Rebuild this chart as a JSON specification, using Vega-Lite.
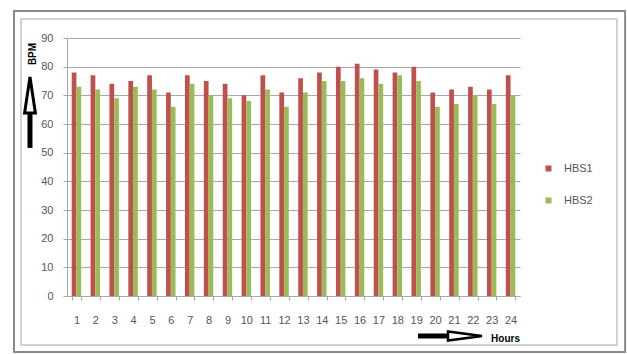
{
  "$schema": "https://vega.github.io/schema/vega-lite/v6.json",
  "width": 453,
  "height": 258,
  "autosize": {"type": "none"},
  "padding": {"left": 67, "top": 38, "right": 107, "bottom": 58},
  "background": "white",
  "config": {
    "font": "Liberation Sans",
    "view": {"stroke": null},
    "axis": {
      "labelFont": "Liberation Sans",
      "labelFontSize": 11,
      "labelColor": "#555555",
      "gridColor": "#a8a8a8",
      "domainColor": "#a8a8a8",
      "tickColor": "#a8a8a8",
      "tickSize": 4,
      "title": null
    }
  },
  "datasets": {
    "bpm": [
      {"hour": 1, "series": "HBS1", "bpm": 78}, {"hour": 1, "series": "HBS2", "bpm": 73},
      {"hour": 2, "series": "HBS1", "bpm": 77}, {"hour": 2, "series": "HBS2", "bpm": 72},
      {"hour": 3, "series": "HBS1", "bpm": 74}, {"hour": 3, "series": "HBS2", "bpm": 69},
      {"hour": 4, "series": "HBS1", "bpm": 75}, {"hour": 4, "series": "HBS2", "bpm": 73},
      {"hour": 5, "series": "HBS1", "bpm": 77}, {"hour": 5, "series": "HBS2", "bpm": 72},
      {"hour": 6, "series": "HBS1", "bpm": 71}, {"hour": 6, "series": "HBS2", "bpm": 66},
      {"hour": 7, "series": "HBS1", "bpm": 77}, {"hour": 7, "series": "HBS2", "bpm": 74},
      {"hour": 8, "series": "HBS1", "bpm": 75}, {"hour": 8, "series": "HBS2", "bpm": 70},
      {"hour": 9, "series": "HBS1", "bpm": 74}, {"hour": 9, "series": "HBS2", "bpm": 69},
      {"hour": 10, "series": "HBS1", "bpm": 70}, {"hour": 10, "series": "HBS2", "bpm": 68},
      {"hour": 11, "series": "HBS1", "bpm": 77}, {"hour": 11, "series": "HBS2", "bpm": 72},
      {"hour": 12, "series": "HBS1", "bpm": 71}, {"hour": 12, "series": "HBS2", "bpm": 66},
      {"hour": 13, "series": "HBS1", "bpm": 76}, {"hour": 13, "series": "HBS2", "bpm": 71},
      {"hour": 14, "series": "HBS1", "bpm": 78}, {"hour": 14, "series": "HBS2", "bpm": 75},
      {"hour": 15, "series": "HBS1", "bpm": 80}, {"hour": 15, "series": "HBS2", "bpm": 75},
      {"hour": 16, "series": "HBS1", "bpm": 81}, {"hour": 16, "series": "HBS2", "bpm": 76},
      {"hour": 17, "series": "HBS1", "bpm": 79}, {"hour": 17, "series": "HBS2", "bpm": 74},
      {"hour": 18, "series": "HBS1", "bpm": 78}, {"hour": 18, "series": "HBS2", "bpm": 77},
      {"hour": 19, "series": "HBS1", "bpm": 80}, {"hour": 19, "series": "HBS2", "bpm": 75},
      {"hour": 20, "series": "HBS1", "bpm": 71}, {"hour": 20, "series": "HBS2", "bpm": 66},
      {"hour": 21, "series": "HBS1", "bpm": 72}, {"hour": 21, "series": "HBS2", "bpm": 67},
      {"hour": 22, "series": "HBS1", "bpm": 73}, {"hour": 22, "series": "HBS2", "bpm": 70},
      {"hour": 23, "series": "HBS1", "bpm": 72}, {"hour": 23, "series": "HBS2", "bpm": 67},
      {"hour": 24, "series": "HBS1", "bpm": 77}, {"hour": 24, "series": "HBS2", "bpm": 70}
    ]
  },
  "layer": [
    {
      "data": {"name": "bpm"},
      "mark": {"type": "bar"},
      "encoding": {
        "x": {
          "field": "hour",
          "type": "ordinal",
          "sort": "ascending",
          "scale": {"paddingInner": 0.5, "paddingOuter": 0.25},
          "axis": {
            "labelAngle": 0,
            "labelPadding": 14,
            "tickBand": "extent",
            "grid": false,
            "domain": true
          }
        },
        "xOffset": {"field": "series", "type": "nominal"},
        "y": {
          "field": "bpm",
          "type": "quantitative",
          "scale": {"domain": [0, 90], "nice": false},
          "axis": {
            "values": [0, 10, 20, 30, 40, 50, 60, 70, 80, 90],
            "grid": true,
            "domain": true,
            "labelPadding": 10
          }
        },
        "color": {
          "field": "series",
          "type": "nominal",
          "scale": {"domain": ["HBS1", "HBS2"], "range": ["#C0504D", "#9BBB59"]},
          "legend": {
            "title": null,
            "orient": "none",
            "legendX": 476,
            "legendY": 125,
            "padding": 0,
            "symbolType": "square",
            "symbolSize": 36,
            "symbolStrokeWidth": 0,
            "labelOffset": 10,
            "labelFontSize": 11,
            "labelColor": "#555555",
            "rowPadding": 20
          }
        }
      }
    },
    {
      "data": {"values": [{}]},
      "layer": [
        {
          "mark": {"type": "rect", "fill": null, "stroke": "#8a8a8a", "strokeWidth": 2},
          "encoding": {
            "x": {"datum": -0.117, "type": "quantitative", "scale": {"domain": [0, 1], "nice": false, "zero": false}, "axis": null},
            "x2": {"datum": 1.232},
            "y": {"datum": -0.217, "type": "quantitative", "scale": {"domain": [0, 1], "nice": false, "zero": false}, "axis": null},
            "y2": {"datum": 1.105}
          }
        },
        {
          "mark": {"type": "rect", "fill": null, "stroke": "#c4c4c4", "strokeWidth": 1.5},
          "encoding": {
            "x": {"datum": -0.1015, "type": "quantitative"},
            "x2": {"datum": 1.214},
            "y": {"datum": -0.19, "type": "quantitative"},
            "y2": {"datum": 1.074}
          }
        },
        {
          "mark": {"type": "rule", "color": "black", "strokeWidth": 5, "strokeCap": "butt"},
          "encoding": {
            "x": {"datum": -0.0817, "type": "quantitative"},
            "y": {"datum": 0.574, "type": "quantitative"},
            "y2": {"datum": 0.715}
          }
        },
        {
          "mark": {
            "type": "point",
            "shape": "M0,-1L0.3,1L-0.3,1Z",
            "filled": true,
            "fill": "white",
            "stroke": "black",
            "strokeWidth": 3,
            "size": 1296,
            "opacity": 1
          },
          "encoding": {
            "x": {"datum": -0.0817, "type": "quantitative"},
            "y": {"datum": 0.779, "type": "quantitative"}
          }
        },
        {
          "mark": {"type": "rule", "color": "black", "strokeWidth": 5, "strokeCap": "butt"},
          "encoding": {
            "x": {"datum": 0.7748, "type": "quantitative"},
            "x2": {"datum": 0.842},
            "y": {"datum": -0.155, "type": "quantitative"}
          }
        },
        {
          "mark": {
            "type": "point",
            "shape": "M1,0L-1,-0.27L-1,0.27Z",
            "filled": true,
            "fill": "white",
            "stroke": "black",
            "strokeWidth": 2.5,
            "size": 1156,
            "opacity": 1
          },
          "encoding": {
            "x": {"datum": 0.8786, "type": "quantitative"},
            "y": {"datum": -0.155, "type": "quantitative"}
          }
        },
        {
          "mark": {"type": "text", "text": "BPM", "angle": 270, "fontWeight": "bold", "fontSize": 10, "color": "black", "align": "center", "baseline": "middle"},
          "encoding": {
            "x": {"datum": -0.075, "type": "quantitative"},
            "y": {"datum": 0.938, "type": "quantitative"}
          }
        },
        {
          "mark": {"type": "text", "text": "Hours", "fontWeight": "bold", "fontSize": 10, "color": "black", "align": "center", "baseline": "middle"},
          "encoding": {
            "x": {"datum": 0.968, "type": "quantitative"},
            "y": {"datum": -0.1667, "type": "quantitative"}
          }
        }
      ]
    }
  ],
  "resolve": {"scale": {"x": "independent", "y": "independent"}}
}
